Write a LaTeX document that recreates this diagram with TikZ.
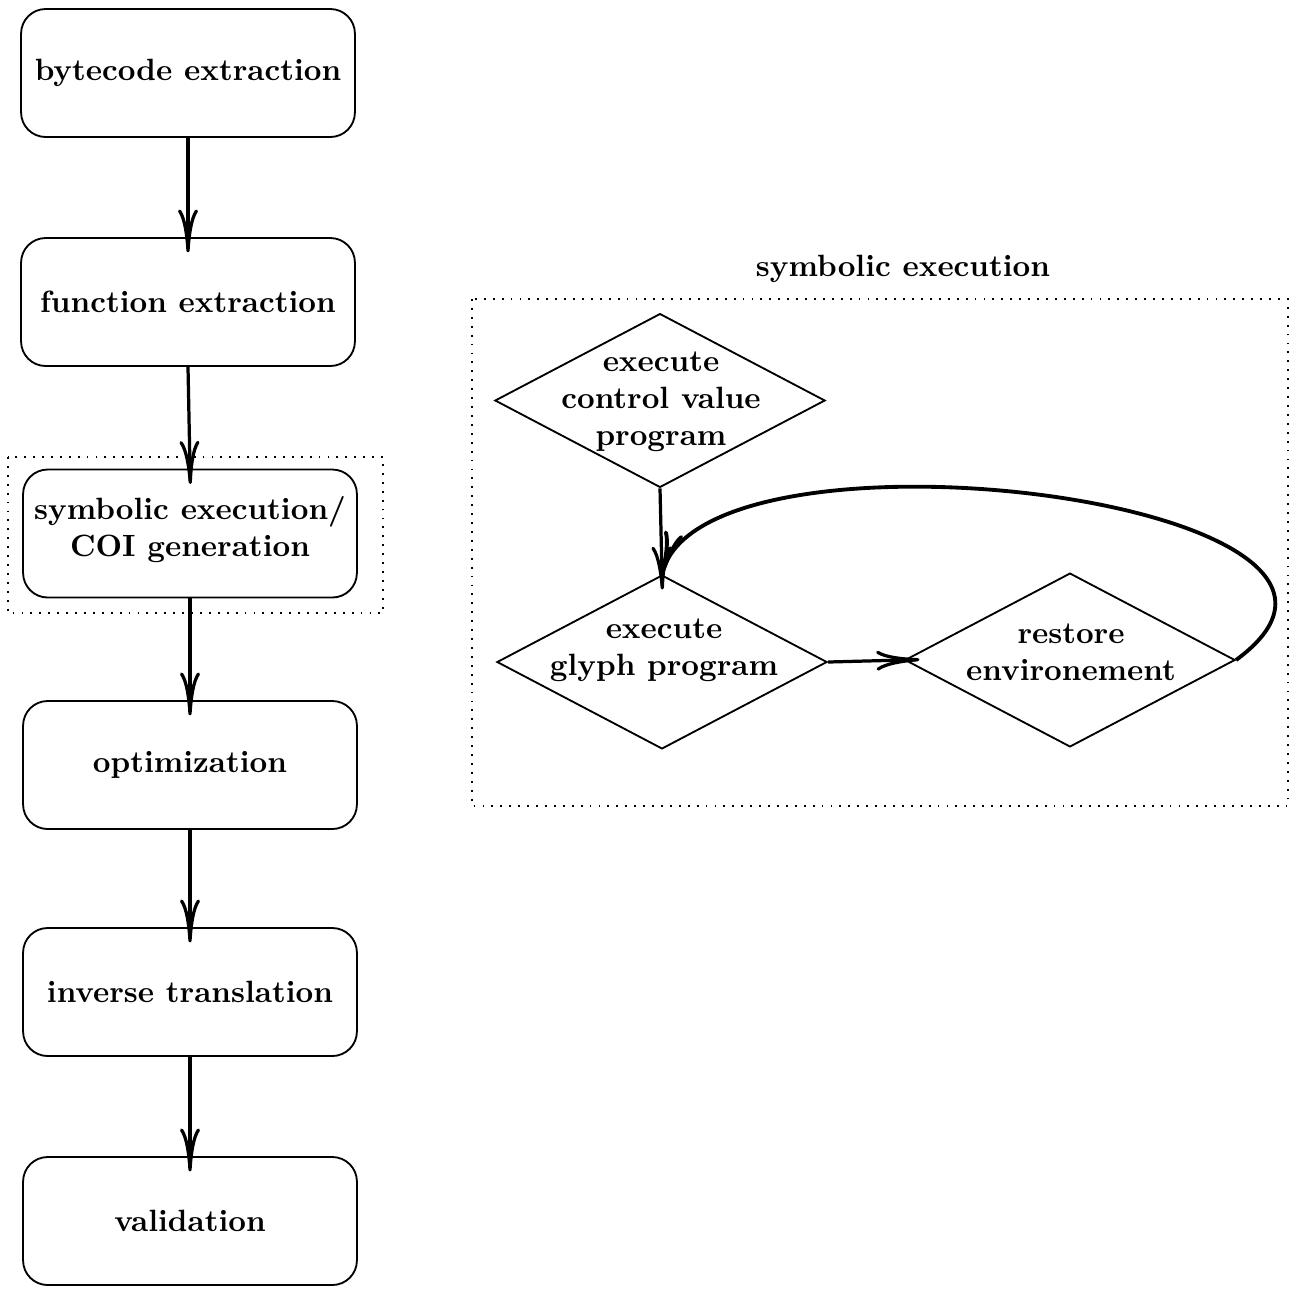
\documentclass[tikz,border=0pt]{standalone}
\usetikzlibrary{shapes.geometric,arrows.meta}
\begin{document}
\begin{tikzpicture}[x=0.325pt,y=-0.325pt,
 stepbox/.style={draw,rounded corners=8pt,line width=0.6pt,minimum width=108.5pt,minimum height=41.6pt,inner sep=1pt,align=center,font=\bfseries},
 dia/.style={draw,diamond,line width=0.6pt,minimum width=107.3pt,minimum height=56.5pt,inner sep=0pt},
 dtext/.style={align=center,font=\bfseries,inner sep=0pt},
 flow/.style={line width=1.05pt,-{Computer Modern Rightarrow[length=14pt,width=6.5pt]},shorten >=-5pt},
 dotbox/.style={line width=0.6pt,dash pattern=on 0.6pt off 2.3pt}]
\useasboundingbox (0,0) rectangle (1290,1289);
% left pipeline
\node[stepbox] (b1) at (188,73) {bytecode extraction};
\node[stepbox] (b2) at (188,302) {function extraction};
\node[stepbox] (b3) at (190,533.5) {symbolic execution/\\COI generation\rule[-4.3pt]{0pt}{0pt}};
\node[stepbox] (b4) at (190,765) {optimization};
\node[stepbox] (b5) at (190,992) {inverse translation};
\node[stepbox] (b6) at (190,1221) {validation};
\draw[dotbox] (8,457) rectangle (383,613);
\draw[flow] (b1.south) -- (b2.north);
\draw[flow] (b2.south) -- (b3.north);
\draw[flow] (b3.south) -- (b4.north);
\draw[flow] (b4.south) -- (b5.north);
\draw[flow] (b5.south) -- (b6.north);
% right detail
\node[font=\bfseries] (title) at (903,268.5) {symbolic execution};
\draw[dotbox] (472,299) rectangle (1288,806);
\node[dia] (d1) at (660,400.5) {};
\node[dtext] (t1) at (661,402) {execute\\control value\\program};
\node[dia] (d2) at (662,662) {};
\node[dtext] (t2) at (664,650) {execute\\glyph program};
\node[dia] (d3) at (1070,660) {};
\node[dtext] (t3) at (1071,652) {restore\\environement};
\draw[flow] (d1.south) -- (d2.north);
\draw[flow] (d2.east) -- (d3.west);
\draw[flow,line width=1.25pt,shorten >=0pt] (d3.east) .. controls +(216,-158) and +(48,-164) .. (d2.north);
\end{tikzpicture}
\end{document}
